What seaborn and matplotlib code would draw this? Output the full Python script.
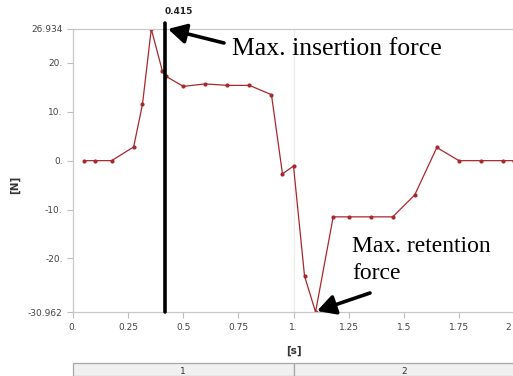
import matplotlib
matplotlib.use("Agg")
import matplotlib.pyplot as plt
from matplotlib.patches import Rectangle
import matplotlib.transforms as mtransforms
import seaborn as sns
import pandas as pd

# ---- data ----
time_s = [0.05, 0.10, 0.175, 0.275, 0.315, 0.355, 0.405, 0.42, 0.50, 0.60, 0.70, 0.80,
          0.90, 0.95, 1.00, 1.05, 1.10, 1.18, 1.25, 1.35, 1.45, 1.55, 1.65, 1.75,
          1.85, 1.95, 2.00]
force_n = [0.0, 0.0, 0.0, 2.8, 11.5, 26.934, 18.4, 17.3, 15.2, 15.7, 15.4, 15.4,
           13.5, -2.7, -1.1, -23.6, -30.962, -11.5, -11.5, -11.5, -11.5, -7.0, 2.7, 0.0,
           0.0, 0.0, 0.0]
ytick_vals = [26.934, 20, 10, 0, -10, -20, -30.962]
ytick_labels = ["26.934", "20.", "10.", "0.", "-10.", "-20.", "-30.962"]
xtick_vals = [0, 0.25, 0.5, 0.75, 1.0, 1.25, 1.5, 1.75, 2.0]
xtick_labels = ["0.", "0.25", "0.5", "0.75", "1.", "1.25", "1.5", "1.75", "2"]
marker_time = 0.415
steps = ["1", "2"]
step_bounds = [0.0, 1.0, 2.0]

df = pd.DataFrame({"t": time_s, "F": force_n})

sns.set_style("white")
W, H = 513, 376
fig = plt.figure(figsize=(W / 100, H / 100), dpi=100)
ax = fig.add_axes([73 / W, 1 - 312 / H, 441 / W, 283 / H])

sns.lineplot(data=df, x="t", y="F", ax=ax, color="#a8282d", lw=0.9,
             marker="o", markersize=3, markeredgewidth=0, sort=False)

ax.set_xlim(0, 2.0)
ax.set_ylim(-30.962, 26.934)
ax.set_xticks(xtick_vals)
ax.set_xticklabels(xtick_labels)
ax.set_yticks(ytick_vals)
ax.set_yticklabels(ytick_labels)
ax.tick_params(axis="both", labelsize=6.5, colors="#bdbdbd", labelcolor="#444444",
               length=4, width=0.8, direction="out", bottom=True, left=True)
ax.tick_params(axis="x", pad=4)
# keep the last (edge) tick label inside the figure
last = ax.get_xticklabels()[-1]
last.set_transform(last.get_transform() +
                   mtransforms.ScaledTranslation(-6 / 100, 0, fig.dpi_scale_trans))
for s in ax.spines.values():
    s.set_color("#c8c8c8")
    s.set_linewidth(0.9)
ax.axvline(1.0, color="#ececec", lw=0.9, zorder=0)

ax.set_xlabel("[s]", fontsize=7.5, fontweight="bold", color="#333333", labelpad=10)
ax.set_ylabel("[N]", fontsize=7.5, fontweight="bold", color="#333333", labelpad=3)
ax.yaxis.set_label_coords(-(73 - 20) / 441, 0.45)

# vertical marker line
ax.axvline(marker_time, ymin=0, ymax=1.02, color="black", lw=2.6, clip_on=False, zorder=5)
ax.text(marker_time, 1.045, "0.415", transform=ax.get_xaxis_transform(),
        fontsize=6.5, fontweight="bold", color="#222222", ha="left", va="bottom")

# annotations
serif = "Liberation Serif"
fig.text(232 / W, 1 - 55 / H, "Max. insertion force", fontsize=18.5, family=serif,
         ha="left", va="baseline", color="black")
fig.text(352 / W, 1 - 252 / H, "Max. retention", fontsize=17, family=serif,
         ha="left", va="baseline", color="black")
fig.text(352 / W, 1 - 279 / H, "force", fontsize=17, family=serif,
         ha="left", va="baseline", color="black")
arrow = dict(arrowstyle="-|>,head_length=0.55,head_width=0.3", lw=2.6, color="black",
             shrinkA=0, shrinkB=0, mutation_scale=20)
ax.annotate("", xy=(168, H - 29), xycoords="figure pixels",
            xytext=(224, H - 43), textcoords="figure pixels", arrowprops=arrow)
ax.annotate("", xy=(317, H - 311), xycoords="figure pixels",
            xytext=(370, H - 293), textcoords="figure pixels", arrowprops=arrow)

# step table below axis
x0 = 73
px_per = 441 / 2.0
for i, lab in enumerate(steps):
    a = x0 + step_bounds[i] * px_per
    b = x0 + step_bounds[i + 1] * px_per
    fig.patches.append(Rectangle((a / W, 0), (b - a) / W, (H - 363) / H,
                                 transform=fig.transFigure, facecolor="#f0f0f0",
                                 edgecolor="#a8a8a8", lw=0.9))
    fig.text((a + b) / 2 / W, 1 - 371 / H, lab, fontsize=6.5, color="#333333",
             ha="center", va="center")

fig.savefig("out.png", dpi=100)
